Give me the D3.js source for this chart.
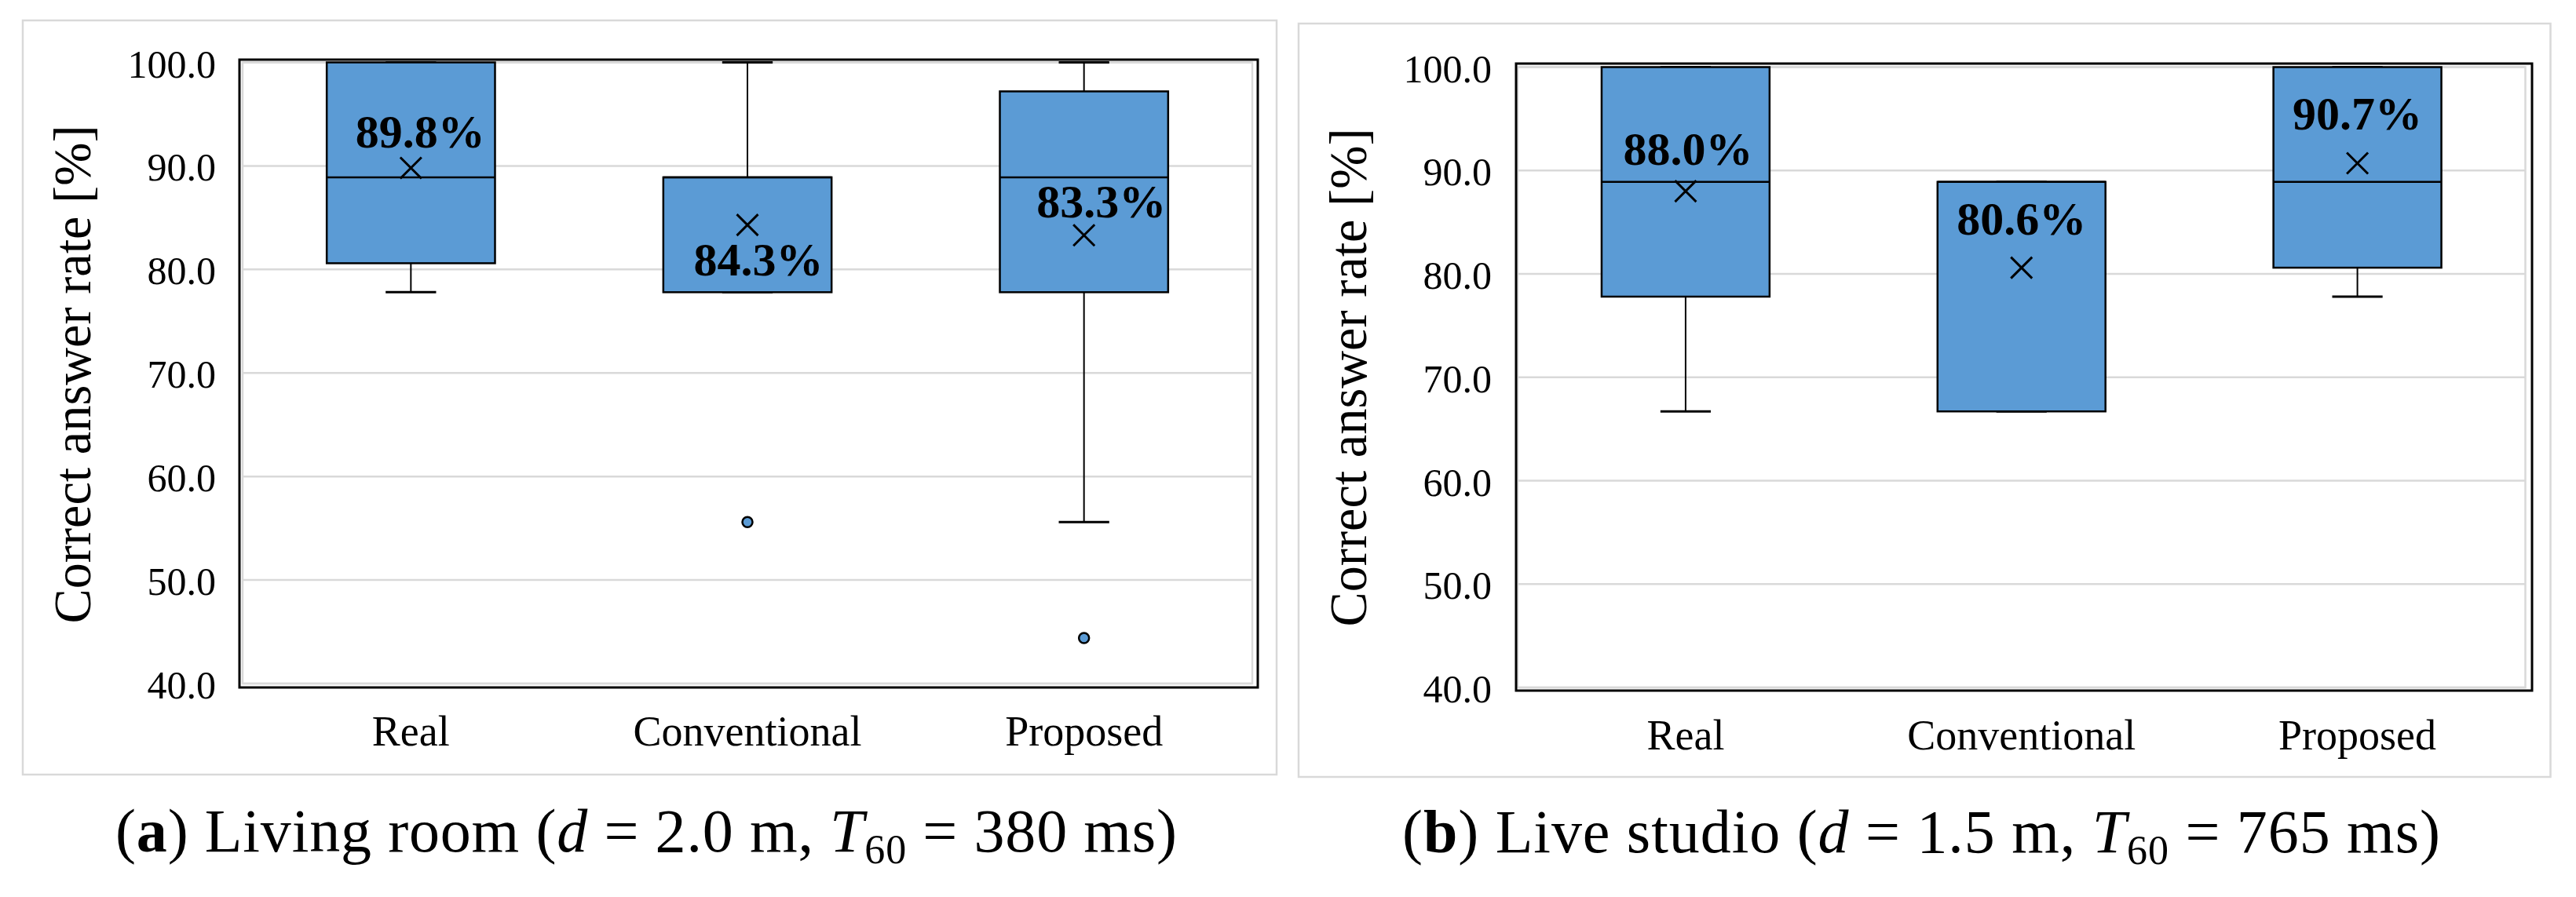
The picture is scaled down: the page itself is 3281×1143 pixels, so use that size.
<!DOCTYPE html>
<html>
<head>
<meta charset="utf-8">
<script src="https://cdn.jsdelivr.net/npm/d3@7"></script>
<style>
  body { margin: 0; background: #fff; }
</style>
</head>
<body>
<div id="chart"></div>
<script>
// ---- data ----
const categories = ["Real", "Conventional", "Proposed"];
const yTicks = [40, 50, 60, 70, 80, 90, 100];

// (a) living room
const livingLow = [77.8, 77.8, 55.6];
const livingQ1 = [80.6, 77.8, 77.8];
const livingMedian = [88.9, 88.9, 88.9];
const livingQ3 = [100, 88.9, 97.2];
const livingHigh = [100, 100, 100];
const livingMean = [89.8, 84.3, 83.3];
const livingOutliers = [[], [55.6], [44.4]];
const livingCaption = [["(", ""], ["a", "b"], [") Living room (", ""], ["d", "i"], [" = 2.0 m, ", ""], ["T", "i"], ["60", "sub"], [" = 380 ms)", ""]];

// (b) live studio
const studioLow = [66.7, 66.7, 77.8];
const studioQ1 = [77.8, 66.7, 80.6];
const studioMedian = [88.9, 88.9, 88.9];
const studioQ3 = [100, 88.9, 100];
const studioHigh = [100, 88.9, 100];
const studioMean = [88.0, 80.6, 90.7];
const studioOutliers = [[], [], []];
const studioCaption = [["(", ""], ["b", "b"], [") Live studio (", ""], ["d", "i"], [" = 1.5 m, ", ""], ["T", "i"], ["60", "sub"], [" = 765 ms)", ""]];

const yTitle = "Correct answer rate [%]";

// ---- layout ----
const W = 3281, H = 1143;
const serif = "'Liberation Serif', 'Times New Roman', serif";
const boxFill = "#5b9bd5";
const gridColor = "#d9d9d9";

const panels = [
  {
    low: livingLow, q1: livingQ1, median: livingMedian, q3: livingQ3, high: livingHigh,
    mean: livingMean, outliers: livingOutliers, caption: livingCaption,
    border: [29, 26, 1626, 987], frame: [305, 76, 1602, 876],
    plotX: [309, 1595], plotY: [871, 79.5], tickRight: 275,
    titleX: 115, titleY: 477, xLabelY: 950, captionX: 823, captionY: 1085, captionLen: 1352,
    labelOff: [[12, -26], [14, 64], [22, -23]]
  },
  {
    low: studioLow, q1: studioQ1, median: studioMedian, q3: studioQ3, high: studioHigh,
    mean: studioMean, outliers: studioOutliers, caption: studioCaption,
    border: [1654, 30, 3248.5, 990], frame: [1931, 81, 3225, 880],
    plotX: [1933, 3216.5], plotY: [876, 85.5], tickRight: 1900,
    titleX: 1740, titleY: 481, xLabelY: 955, captionX: 2447, captionY: 1086, captionLen: 1322,
    labelOff: [[3, -34], [0, -42], [0, -43]]
  }
];

const svg = d3.select("#chart").append("svg")
  .attr("width", W)
  .attr("height", H)
  .style("display", "block");

svg.append("rect").attr("width", W).attr("height", H).attr("fill", "#fff");

function drawPanel(p) {
  const g = svg.append("g");

  // outer chart border
  g.append("rect")
    .attr("x", p.border[0]).attr("y", p.border[1])
    .attr("width", p.border[2] - p.border[0])
    .attr("height", p.border[3] - p.border[1])
    .attr("fill", "#fff")
    .attr("stroke", gridColor)
    .attr("stroke-width", 2.5);

  const x = d3.scaleBand().domain(categories).range(p.plotX);
  const y = d3.scaleLinear().domain([40, 100]).range(p.plotY);
  const bw = x.bandwidth();
  const cx = i => x(categories[i]) + bw / 2;

  // gridlines + inner grey edge
  g.append("g").selectAll("line")
    .data(yTicks)
    .join("line")
    .attr("x1", p.plotX[0]).attr("x2", p.plotX[1])
    .attr("y1", d => y(d)).attr("y2", d => y(d))
    .attr("stroke", gridColor)
    .attr("stroke-width", 2.5);

  g.append("rect")
    .attr("x", p.plotX[0]).attr("y", y(100))
    .attr("width", p.plotX[1] - p.plotX[0])
    .attr("height", y(40) - y(100))
    .attr("fill", "none")
    .attr("stroke", gridColor)
    .attr("stroke-width", 2.5);

  // plot frame
  g.append("rect")
    .attr("x", p.frame[0]).attr("y", p.frame[1])
    .attr("width", p.frame[2] - p.frame[0])
    .attr("height", p.frame[3] - p.frame[1])
    .attr("fill", "none")
    .attr("stroke", "#000")
    .attr("stroke-width", 3);

  // y axis
  const yAxis = g.append("g")
    .attr("transform", `translate(${p.frame[0]},0)`)
    .call(d3.axisLeft(y).tickValues(yTicks).tickFormat(d3.format(".1f"))
      .tickSize(0).tickPadding(p.frame[0] - p.tickRight));
  yAxis.select(".domain").remove();
  yAxis.selectAll("text")
    .attr("font-family", serif)
    .attr("font-size", 50)
    .attr("fill", "#000")
    .attr("dy", "0.37em");

  // x axis
  const xAxis = g.append("g")
    .attr("transform", `translate(0,${p.frame[3]})`)
    .call(d3.axisBottom(x).tickSize(0).tickPadding(0));
  xAxis.select(".domain").remove();
  xAxis.selectAll("text")
    .attr("font-family", serif)
    .attr("font-size", 54)
    .attr("fill", "#000")
    .attr("dy", null)
    .attr("y", p.xLabelY - p.frame[3]);

  // y title
  g.append("text")
    .attr("transform", `translate(${p.titleX},${p.titleY}) rotate(-90)`)
    .attr("text-anchor", "middle")
    .attr("font-family", serif)
    .attr("font-size", 68)
    .attr("textLength", 635)
    .attr("lengthAdjust", "spacingAndGlyphs")
    .attr("fill", "#000")
    .text(yTitle);

  const idx = categories.map((c, i) => i);

  // whiskers
  g.append("g").selectAll("line.wh")
    .data(idx.flatMap(i => [[i, p.q3[i], p.high[i]], [i, p.q1[i], p.low[i]]]))
    .join("line")
    .attr("x1", d => cx(d[0])).attr("x2", d => cx(d[0]))
    .attr("y1", d => y(d[1])).attr("y2", d => y(d[2]))
    .attr("stroke", "#000").attr("stroke-width", 2);

  g.append("g").selectAll("line.cap")
    .data(idx.flatMap(i => [[i, p.high[i]], [i, p.low[i]]]))
    .join("line")
    .attr("x1", d => cx(d[0]) - bw * 0.075).attr("x2", d => cx(d[0]) + bw * 0.075)
    .attr("y1", d => y(d[1])).attr("y2", d => y(d[1]))
    .attr("stroke", "#000").attr("stroke-width", 3);

  // boxes
  g.append("g").selectAll("rect")
    .data(idx)
    .join("rect")
    .attr("x", i => cx(i) - bw * 0.25)
    .attr("width", bw * 0.5)
    .attr("y", i => y(p.q3[i]))
    .attr("height", i => y(p.q1[i]) - y(p.q3[i]))
    .attr("fill", boxFill)
    .attr("stroke", "#000")
    .attr("stroke-width", 2.5);

  // medians
  g.append("g").selectAll("line")
    .data(idx)
    .join("line")
    .attr("x1", i => cx(i) - bw * 0.25).attr("x2", i => cx(i) + bw * 0.25)
    .attr("y1", i => y(p.median[i])).attr("y2", i => y(p.median[i]))
    .attr("stroke", "#000").attr("stroke-width", 2.5);

  // outliers
  g.append("g").selectAll("circle")
    .data(idx.flatMap(i => p.outliers[i].map(v => [i, v])))
    .join("circle")
    .attr("cx", d => cx(d[0]))
    .attr("cy", d => y(d[1]))
    .attr("r", 6.5)
    .attr("fill", boxFill)
    .attr("stroke", "#000")
    .attr("stroke-width", 2.5);

  // mean markers (x)
  const m = 13.5;
  g.append("g").selectAll("path")
    .data(idx)
    .join("path")
    .attr("d", i => {
      const px = cx(i), py = y(p.mean[i]);
      return `M${px - m},${py - m}L${px + m},${py + m}M${px - m},${py + m}L${px + m},${py - m}`;
    })
    .attr("stroke", "#000")
    .attr("stroke-width", 3)
    .attr("fill", "none");

  // mean labels
  g.append("g").selectAll("text")
    .data(idx)
    .join("text")
    .attr("x", i => cx(i) + p.labelOff[i][0])
    .attr("y", i => y(p.mean[i]) + p.labelOff[i][1])
    .attr("text-anchor", "middle")
    .attr("font-family", serif)
    .attr("font-weight", "bold")
    .attr("font-size", 60)
    .attr("fill", "#000")
    .text(i => d3.format(".1f")(p.mean[i]) + "%");

  // caption
  const cap = g.append("text")
    .attr("x", p.captionX)
    .attr("y", p.captionY)
    .attr("text-anchor", "middle")
    .attr("font-family", serif)
    .attr("font-size", 78)
    .attr("textLength", p.captionLen)
    .attr("lengthAdjust", "spacing")
    .attr("fill", "#000");
  let shifted = false;
  p.caption.forEach(([t, s]) => {
    const ts = cap.append("tspan").text(t);
    if (s === "b") ts.attr("font-weight", "bold");
    if (s === "i") ts.attr("font-style", "italic");
    if (s === "sub") {
      ts.attr("font-size", 52).attr("dy", 15);
      shifted = true;
    } else if (shifted) {
      ts.attr("dy", -15);
      shifted = false;
    }
  });
}

panels.forEach(drawPanel);
</script>
</body>
</html>
